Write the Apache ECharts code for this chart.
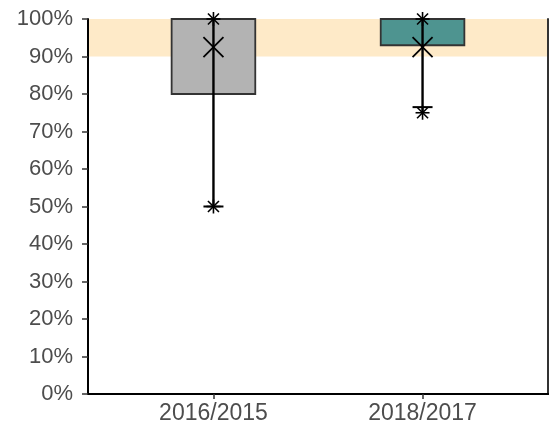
<!DOCTYPE html>
<html>
<head>
<meta charset="utf-8">
<script src="https://cdn.jsdelivr.net/npm/echarts@6/dist/echarts.min.js"></script>
<style>
  html, body { margin: 0; padding: 0; background: #fff; }
  #chart { width: 549px; height: 428px; }
</style>
</head>
<body>
<div id="chart"></div>
<script>
// 数据
var categories = ["2016/2015", "2018/2017"];
var barLow = [80, 93];
var barHigh = [100, 100];
var rangeMin = [50, 75];
var rangeMax = [100, 100];
var meanVal = [92.5, 92.5];
var capVal = [50, 76.5];
var bandRange = [90, 100];
var barColors = ["#b3b3b3", "#4e9490"];

var myChart = echarts.init(document.getElementById("chart"));

var catPos = categories.map(function (c, i) { return i + 1; });

var barData = [];
var errData = [];
for (var i = 0; i < categories.length; i++) {
  barData.push([catPos[i], barLow[i], barHigh[i], i]);
  errData.push([catPos[i], rangeMin[i], rangeMax[i], meanVal[i], capVal[i]]);
}

function seg(x1, y1, x2, y2, w) {
  return {
    type: "line",
    shape: { x1: x1, y1: y1, x2: x2, y2: y2 },
    style: { stroke: "#000", lineWidth: w }
  };
}

function asterisk(p, list) {
  var a = 7, d = 5.5;
  list.push(seg(p[0] - a, p[1], p[0] + a, p[1], 1.6));
  list.push(seg(p[0], p[1] - a, p[0], p[1] + a, 1.6));
  list.push(seg(p[0] - d, p[1] - d, p[0] + d, p[1] + d, 1.6));
  list.push(seg(p[0] - d, p[1] + d, p[0] + d, p[1] - d, 1.6));
}

var option = {
  animation: false,
  grid: { left: 88, right: 1, top: 19, bottom: 34 },
  xAxis: [
    {
      type: "value",
      min: 0.4,
      max: 2.6,
      splitLine: { show: false },
      axisLine: { show: true, lineStyle: { color: "#000", width: 2 } },
      axisTick: {
        show: true,
        customValues: catPos,
        length: 5,
        lineStyle: { color: "#333", width: 1.5 }
      },
      axisLabel: {
        customValues: catPos,
        margin: 8,
        color: "#4d4d4d",
        fontSize: 23,
        fontFamily: "Liberation Sans",
        formatter: function (v) { return categories[Math.round(v) - 1]; }
      },
      z: 10
    },
    {
      type: "value",
      position: "top",
      min: 0.4,
      max: 2.6,
      splitLine: { show: false },
      axisLine: { show: true, lineStyle: { color: "#000", width: 2 } },
      axisTick: { show: false },
      axisLabel: { show: false },
      z: 10
    }
  ],
  yAxis: [
    {
      type: "value",
      min: 0,
      max: 100,
      interval: 10,
      splitLine: { show: false },
      axisLine: { show: true, lineStyle: { color: "#000", width: 2 } },
      axisTick: { show: true, length: 6, lineStyle: { color: "#333", width: 1.5 } },
      axisLabel: {
        margin: 15,
        color: "#4d4d4d",
        fontSize: 22,
        fontFamily: "Liberation Sans",
        formatter: "{value}%"
      },
      z: 10
    },
    {
      type: "value",
      position: "right",
      min: 0,
      max: 100,
      splitLine: { show: false },
      axisLine: { show: true, lineStyle: { color: "#333", width: 2 } },
      axisTick: { show: false },
      axisLabel: { show: false },
      z: 10
    }
  ],
  series: [
    // 黄色目标区
    {
      type: "custom",
      z: 1,
      data: [bandRange],
      renderItem: function (params, api) {
        var cs = params.coordSys;
        var top = api.coord([0.4, api.value(1)]);
        var bot = api.coord([0.4, api.value(0)]);
        return {
          type: "rect",
          shape: { x: cs.x, y: top[1], width: cs.width, height: bot[1] - top[1] },
          style: { fill: "#feeac8" }
        };
      }
    },
    // 柱子
    {
      type: "custom",
      z: 2,
      data: barData,
      renderItem: function (params, api) {
        var x = api.value(0);
        var p1 = api.coord([x - 0.2, api.value(2)]);
        var p2 = api.coord([x + 0.2, api.value(1)]);
        return {
          type: "rect",
          shape: { x: p1[0], y: p1[1], width: p2[0] - p1[0], height: p2[1] - p1[1] },
          style: {
            fill: barColors[api.value(3)],
            stroke: "#333",
            lineWidth: 1.8
          }
        };
      }
    },
    // 误差线和标记
    {
      type: "custom",
      z: 3,
      data: errData,
      renderItem: function (params, api) {
        var x = api.value(0);
        var pMin = api.coord([x, api.value(1)]);
        var pMax = api.coord([x, api.value(2)]);
        var pMean = api.coord([x, api.value(3)]);
        var pCap = api.coord([x, api.value(4)]);
        var list = [];
        list.push(seg(pMin[0], pMin[1], pMax[0], pMax[1], 2.4));
        list.push(seg(pCap[0] - 10, pCap[1], pCap[0] + 10, pCap[1], 2));
        asterisk(pMin, list);
        asterisk(pMax, list);
        var m = 10;
        list.push(seg(pMean[0] - m, pMean[1] - m, pMean[0] + m, pMean[1] + m, 1.8));
        list.push(seg(pMean[0] - m, pMean[1] + m, pMean[0] + m, pMean[1] - m, 1.8));
        return { type: "group", children: list };
      }
    }
  ]
};

myChart.setOption(option);
</script>
</body>
</html>
